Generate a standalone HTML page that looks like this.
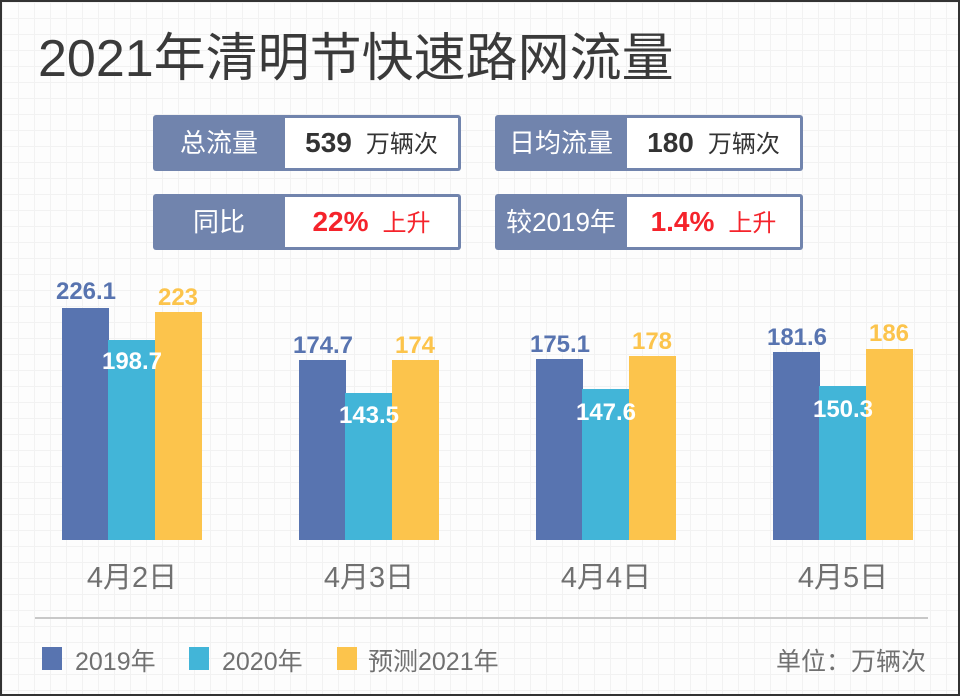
<!DOCTYPE html>
<html><head><meta charset="utf-8"><style>
*{margin:0;padding:0;box-sizing:border-box}
body{width:960px;height:696px;overflow:hidden;font-family:"Liberation Sans","Noto Sans CJK SC",sans-serif}
#c{position:relative;width:960px;height:696px;border:2px solid #333;background-color:#fdfdfd;
background-image:linear-gradient(#f2f2f2 1px,transparent 1px),linear-gradient(90deg,#f2f2f2 1px,transparent 1px);background-size:16px 16px}
.a{position:absolute}
.title{left:36px;top:14px;font-size:52px;color:#3a3a3a;white-space:nowrap}
.box{position:absolute;height:56px;width:308px;background:#7184ad;border-radius:3px}
.box .l{position:absolute;left:0;top:0;width:132px;height:56px;line-height:56px;text-align:center;color:#fff;font-size:26px}
.box .r{position:absolute;left:132px;top:3px;right:3px;bottom:3px;background:#fff;font-size:24px;line-height:50px;color:#333;text-align:center;white-space:nowrap}
.r b{font-size:28px;margin-right:14px}
.box .red{color:#f5232b}
.bar{position:absolute;bottom:154px}
.v{position:absolute;font-size:24px;font-weight:bold;width:80px;text-align:center}
.x{position:absolute;top:552px;font-size:29px;color:#707070;width:140px;text-align:center}
.lg{position:absolute;top:640px;font-size:25px;color:#707070;white-space:nowrap}
.sq{position:absolute;top:645px;width:20px;height:23px}
</style></head><body><div id="c">
<div class="a title">2021年清明节快速路网流量</div>
<div class="box" style="left:151px;top:113px"><div class="l">总流量</div><div class="r"><b>539</b>万辆次</div></div>
<div class="box" style="left:493px;top:113px"><div class="l">日均流量</div><div class="r"><b>180</b>万辆次</div></div>
<div class="box" style="left:151px;top:192px"><div class="l">同比</div><div class="r red"><b>22%</b>上升</div></div>
<div class="box" style="left:493px;top:192px"><div class="l">较2019年</div><div class="r red"><b>1.4%</b>上升</div></div>

<div class="bar" style="left:60px;width:47px;height:232px;background:#5874b0"></div>
<div class="bar" style="left:106px;width:47px;height:200px;background:#42b5d8"></div>
<div class="bar" style="left:153px;width:47px;height:228px;background:#fcc44c"></div>
<div class="bar" style="left:297px;width:47px;height:180px;background:#5874b0"></div>
<div class="bar" style="left:343px;width:47px;height:147px;background:#42b5d8"></div>
<div class="bar" style="left:390px;width:47px;height:180px;background:#fcc44c"></div>
<div class="bar" style="left:534px;width:47px;height:181px;background:#5874b0"></div>
<div class="bar" style="left:580px;width:47px;height:151px;background:#42b5d8"></div>
<div class="bar" style="left:627px;width:47px;height:184px;background:#fcc44c"></div>
<div class="bar" style="left:771px;width:47px;height:188px;background:#5874b0"></div>
<div class="bar" style="left:817px;width:47px;height:154px;background:#42b5d8"></div>
<div class="bar" style="left:864px;width:47px;height:191px;background:#fcc44c"></div>

<div class="v" style="left:44px;top:276px;color:#5874b0">226.1</div>
<div class="v" style="left:90px;top:346px;color:#fff">198.7</div>
<div class="v" style="left:136px;top:282px;color:#fcc44c">223</div>
<div class="v" style="left:281px;top:330px;color:#5874b0">174.7</div>
<div class="v" style="left:327px;top:400px;color:#fff">143.5</div>
<div class="v" style="left:373px;top:330px;color:#fcc44c">174</div>
<div class="v" style="left:518px;top:329px;color:#5874b0">175.1</div>
<div class="v" style="left:564px;top:397px;color:#fff">147.6</div>
<div class="v" style="left:610px;top:326px;color:#fcc44c">178</div>
<div class="v" style="left:755px;top:322px;color:#5874b0">181.6</div>
<div class="v" style="left:801px;top:394px;color:#fff">150.3</div>
<div class="v" style="left:847px;top:318px;color:#fcc44c">186</div>

<div class="x" style="left:60px">4月2日</div>
<div class="x" style="left:297px">4月3日</div>
<div class="x" style="left:534px">4月4日</div>
<div class="x" style="left:771px">4月5日</div>

<div class="a" style="left:33px;top:615px;width:893px;height:2px;background:#c8c8c8"></div>
<div class="sq" style="left:40px;background:#5874b0"></div><div class="lg" style="left:73px">2019年</div>
<div class="sq" style="left:187px;background:#42b5d8"></div><div class="lg" style="left:220px">2020年</div>
<div class="sq" style="left:335px;background:#fcc44c"></div><div class="lg" style="left:366px">预测2021年</div>
<div class="lg" style="left:774px">单位：万辆次</div>
</div></body></html>
